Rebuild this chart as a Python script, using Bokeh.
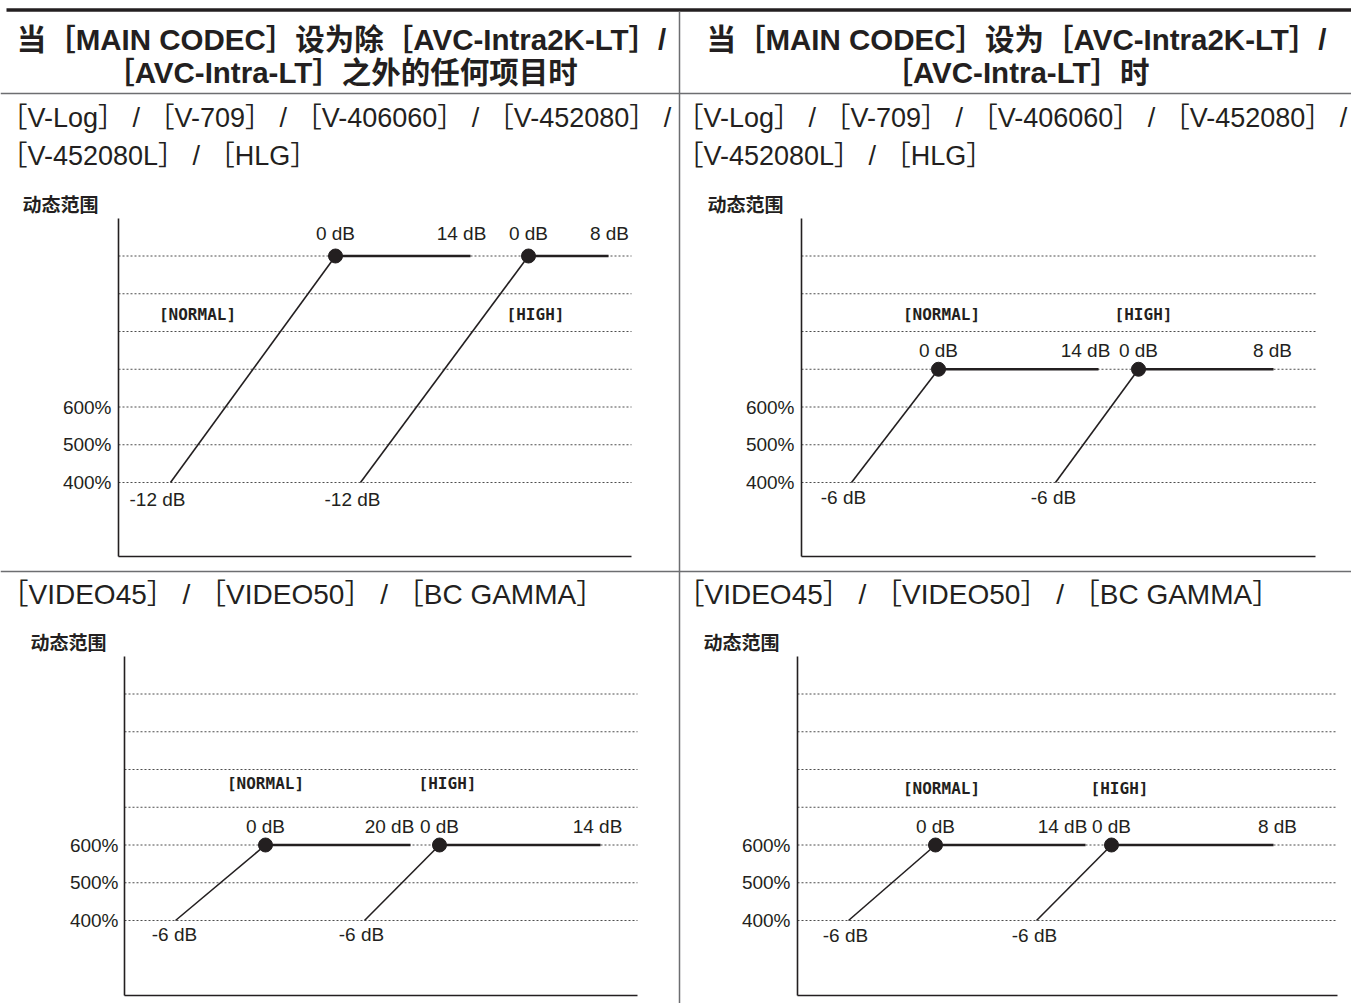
from bokeh.plotting import figure
from bokeh.models import Range1d
from bokeh.core.properties import value
from bokeh.embed import file_html
from bokeh.resources import INLINE

# ---------------- data ----------------
PCT_TICKS = [400, 500, 600]
GRID_PCT = [400, 500, 600, 700, 800, 900, 1000]
MODES = ["[NORMAL]", "[HIGH]"]
START_PCT = 400
KNEE_DB = 0

TL_LOW_DB = [-12, -12]
TL_HIGH_DB = [14, 8]
TL_KNEE_PCT = [1000, 1000]

TR_LOW_DB = [-6, -6]
TR_HIGH_DB = [14, 8]
TR_KNEE_PCT = [700, 700]

BL_LOW_DB = [-6, -6]
BL_HIGH_DB = [20, 14]
BL_KNEE_PCT = [600, 600]

BR_LOW_DB = [-6, -6]
BR_HIGH_DB = [14, 8]
BR_KNEE_PCT = [600, 600]

HEADER_LEFT = ["当［MAIN CODEC］设为除［AVC-Intra2K-LT］/", "［AVC-Intra-LT］之外的任何项目时"]
HEADER_RIGHT = ["当［MAIN CODEC］设为［AVC-Intra2K-LT］/", "［AVC-Intra-LT］时"]
ROW1_TITLE = ["［V-Log］ / ［V-709］ / ［V-406060］ / ［V-452080］ /", "［V-452080L］ / ［HLG］"]
ROW2_TITLE = ["［VIDEO45］ / ［VIDEO50］ / ［BC GAMMA］"]
AXIS_TITLE = "动态范围"

# ---------------- layout ----------------
W, H = 1351, 1003
X0, Y0 = 0, 0
INK = "#231f20"
RULE = "#6d6e71"
LATIN = "Liberation Sans, Noto Sans CJK SC"
HEAD_FONT = "Liberation Sans, Noto Sans CJK SC"
MONO = "DejaVu Sans Mono"
CJK = "Noto Sans CJK SC"

p = figure(width=W, height=H, output_backend="svg", toolbar_location=None,
           x_range=Range1d(X0, X0 + W), y_range=Range1d(Y0 + H, Y0),
           x_axis_type=None, y_axis_type=None, min_border=0,
           outline_line_color=None, background_fill_color="white",
           border_fill_color="white")
p.xgrid.visible = False
p.ygrid.visible = False

PX_PER_PCT = 0.3775


def pct_range(y400):
    start = 400 - (Y0 + H - y400) / PX_PER_PCT
    end = 400 + (y400 - Y0) / PX_PER_PCT
    return Range1d(start, end)


p.extra_y_ranges = {"top": pct_range(482), "bot": pct_range(920)}


def to_px(pct, y400):
    return y400 - (pct - 400) * PX_PER_PCT


# table rules
p.segment(x0=[6], y0=[9.5], x1=[1351], y1=[9.5], line_color=INK, line_width=3.5)
p.segment(x0=[0, 0, 679], y0=[93, 571, 11], x1=[1351, 1351, 679], y1=[93, 571, 1003],
          line_color=RULE, line_width=1.5)

# headers
for cx, lines in ((341, HEADER_LEFT), (1016, HEADER_RIGHT)):
    p.text(x=[cx, cx], y=[39, 72], text=lines, text_align="center", text_baseline="middle",
           text_font=value(HEAD_FONT), text_font_size="29.5px", text_font_style="bold",
           text_color=INK)

# row titles
for lx in (0, 676):
    p.text(x=[lx, lx], y=[117, 155], text=ROW1_TITLE, text_align="left", text_baseline="middle",
           text_font=value(HEAD_FONT), text_font_size="27px", text_color=INK)
    p.text(x=[lx], y=[594], text=ROW2_TITLE, text_align="left", text_baseline="middle",
           text_font=value(HEAD_FONT), text_font_size="28px", text_color=INK)

PANELS = [
    dict(rng="top", y400=482, low=TL_LOW_DB, high=TL_HIGH_DB, knee=TL_KNEE_PCT,
         ax_x=118, ax_top=218, ax_bot=556, ax_right=631, tick_right=111, title=(22, 203),
         xs=[170, 360], xk=[335, 528], xe=[470, 608],
         low_lab_x=[157, 352], low_lab_y=499, high_lab_x=[461, 609], knee_lab_dy=23,
         mode_xy=[(197, 314), (535, 314)]),
    dict(rng="top", y400=482, low=TR_LOW_DB, high=TR_HIGH_DB, knee=TR_KNEE_PCT,
         ax_x=801, ax_top=218, ax_bot=556, ax_right=1315, tick_right=794, title=(707, 203),
         xs=[851, 1055], xk=[938, 1138], xe=[1098, 1273],
         low_lab_x=[843, 1053], low_lab_y=497, high_lab_x=[1085, 1272], knee_lab_dy=19,
         mode_xy=[(941, 314), (1143, 314)]),
    dict(rng="bot", y400=920, low=BL_LOW_DB, high=BL_HIGH_DB, knee=BL_KNEE_PCT,
         ax_x=124, ax_top=656, ax_bot=995, ax_right=637, tick_right=118, title=(30, 641),
         xs=[175, 364], xk=[265, 439], xe=[410, 600],
         low_lab_x=[174, 361], low_lab_y=934, high_lab_x=[389, 597], knee_lab_dy=19,
         mode_xy=[(265, 783), (447, 783)]),
    dict(rng="bot", y400=920, low=BR_LOW_DB, high=BR_HIGH_DB, knee=BR_KNEE_PCT,
         ax_x=797, ax_top=656, ax_bot=995, ax_right=1337, tick_right=790, title=(703, 641),
         xs=[848, 1036], xk=[935, 1111], xe=[1085, 1273],
         low_lab_x=[845, 1034], low_lab_y=935, high_lab_x=[1062, 1277], knee_lab_dy=19,
         mode_xy=[(941, 788), (1119, 788)]),
]

for pn in PANELS:
    r = pn["rng"]
    # dotted grid lines (percent scale)
    p.segment(x0=[pn["ax_x"]] * len(GRID_PCT), y0=GRID_PCT,
              x1=[pn["ax_right"]] * len(GRID_PCT), y1=GRID_PCT,
              y_range_name=r, line_color="#4d4d4d", line_width=1, line_dash="2 2")
    # axes
    p.segment(x0=[pn["ax_x"], pn["ax_x"]], y0=[pn["ax_top"], pn["ax_bot"]],
              x1=[pn["ax_x"], pn["ax_right"]], y1=[pn["ax_bot"], pn["ax_bot"]],
              line_color=INK, line_width=1.6)
    # tick labels
    p.text(x=[pn["tick_right"]] * len(PCT_TICKS), y=PCT_TICKS,
           text=[f"{t}%" for t in PCT_TICKS], y_range_name=r,
           text_align="right", text_baseline="middle", text_font=value(LATIN),
           text_font_size="19px", text_color=INK)
    # axis title
    p.text(x=[pn["title"][0]], y=[pn["title"][1]], text=[AXIS_TITLE], text_align="left",
           text_baseline="middle", text_font=value(CJK), text_font_size="19px",
           text_font_style="bold", text_color=INK)
    # curves
    n = len(MODES)
    p.segment(x0=pn["xs"], y0=[START_PCT] * n, x1=pn["xk"], y1=pn["knee"],
              y_range_name=r, line_color=INK, line_width=1.6)
    p.segment(x0=pn["xk"], y0=pn["knee"], x1=pn["xe"], y1=pn["knee"],
              y_range_name=r, line_color=INK, line_width=2.4)
    p.scatter(x=pn["xk"], y=pn["knee"], y_range_name=r, size=14, marker="circle",
              fill_color=INK, line_color=INK)
    # dB labels
    ky = [to_px(k, pn["y400"]) - pn["knee_lab_dy"] for k in pn["knee"]]
    p.text(x=pn["xk"], y=ky, text=[f"{KNEE_DB} dB"] * n, text_align="center",
           text_baseline="middle", text_font=value(LATIN), text_font_size="19px",
           text_color=INK)
    p.text(x=pn["high_lab_x"], y=ky, text=[f"{d} dB" for d in pn["high"]], text_align="center",
           text_baseline="middle", text_font=value(LATIN), text_font_size="19px",
           text_color=INK)
    p.text(x=pn["low_lab_x"], y=[pn["low_lab_y"]] * n, text=[f"{d} dB" for d in pn["low"]],
           text_align="center", text_baseline="middle", text_font=value(LATIN),
           text_font_size="19px", text_color=INK)
    # mode labels
    p.text(x=[m[0] for m in pn["mode_xy"]], y=[m[1] for m in pn["mode_xy"]], text=MODES,
           text_align="center", text_baseline="middle", text_font=value(MONO),
           text_font_size="16px", text_font_style="bold", text_color=INK)

open("out.html", "w").write(file_html(p, INLINE))
